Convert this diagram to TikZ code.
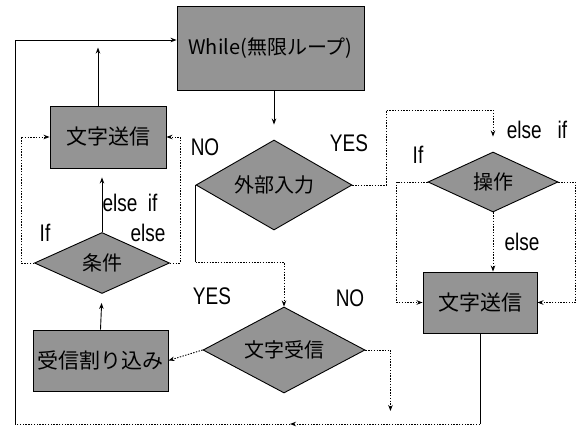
\documentclass[tikz,border=0pt]{standalone}
\usepackage{fontspec}
\usepackage{graphicx}
\setmainfont{Liberation Sans}
\newfontfamily\jp{Noto Sans CJK JP}
\usetikzlibrary{shapes.geometric,arrows.meta}
\newcommand\lbtxt[1]{\scalebox{0.95}[1.2]{#1}}
\begin{document}
\begin{tikzpicture}[x=1pt,y=-1pt,line width=0.9pt,
  box/.style={draw=black, fill=black!42, rectangle, inner sep=0pt, font=\jp\fontsize{21}{21}\selectfont},
  dia/.style={draw=black, fill=black!42, diamond, shape aspect=2, inner sep=0pt, font=\jp\fontsize{20}{20}\selectfont},
  lbl/.style={inner sep=0pt, font=\fontsize{20}{20}\selectfont},
  arr/.style={-{Stealth[length=6pt,width=4.5pt]}},
  dot/.style={dash pattern=on 1.4pt off 1.4pt}]
\useasboundingbox (0,0) rectangle (578,429);

% nodes
\node[box, minimum width=187pt, minimum height=84pt, font=\jp\fontsize{20}{20}\selectfont] (while) at (270.5,48) {While(無限ループ)};
\node[box, minimum width=116pt, minimum height=62pt] (send1) at (108,137) {文字送信};
\node[dia, minimum width=156pt, minimum height=90pt] (ext) at (274,185) {外部入力};
\node[dia, minimum width=162pt, minimum height=86pt] (recv) at (284,350) {文字受信};
\node[box, minimum width=135pt, minimum height=61pt] (intr) at (100.5,360.5) {受信割り込み};
\node[dia, minimum width=135pt, minimum height=61pt] (cond) at (102,263) {条件};
\node[dia, minimum width=130pt, minimum height=60pt] (op) at (493,182) {操作};
\node[box, minimum width=114pt, minimum height=61pt] (send2) at (480,302.5) {文字送信};
\coordinate (m) at (290,424);

% labels
\node[lbl] (l1) at (205,147) {\lbtxt{NO}};
\node[lbl] (l2) at (349,143) {\lbtxt{YES}};
\node[lbl] (l3) at (212,296) {\lbtxt{YES}};
\node[lbl] (l4) at (350,298) {\lbtxt{NO}};
\node[lbl] (l5) at (130,203) {\lbtxt{else\ \ if}};
\node[lbl] (l6) at (45,233) {\lbtxt{If}};
\node[lbl] (l7) at (148,233) {\lbtxt{else}};
\node[lbl] (l8) at (537,130) {\lbtxt{else\ \ \ if}};
\node[lbl] (l9) at (418,155) {\lbtxt{If}};
\node[lbl] (l10) at (522,242) {\lbtxt{else}};

% connectors
\draw[arr] (while.south -| ext.north) -- ([yshift=15pt]ext.north);
\draw (ext.west) -- ++(0,-77pt) coordinate (nob);
\draw[dot,arr] (nob) -| (recv.north);
\draw[dot,arr] (ext.east) -- ++(34pt,0) -- ++(0,75pt) -| ([yshift=15pt]op.north);
\draw[dot,arr] (op.west) -- ++(-31pt,0) |- (send2.west);
\draw[dot,arr] (op.east) -- ++(17pt,0) |- (send2.east);
\draw[dot,arr] (op.south) -- (op.south |- send2.north);
\draw (send2.south) -- (send2.south |- m) coordinate (bc);
\draw[dot,arr] (bc) -- (m);
\draw[dot] (m) -- ++(-275pt,0) coordinate (lc);
\draw[arr] (lc) |- ([yshift=8pt]while.west);
\draw[dot,arr] (recv.west) -- (intr.east);
\draw[dot,arr] (recv.east) -- ++(25pt,0) -- ++(0,-61pt);
\draw[arr,shorten >=9pt] (intr.north) -- (cond.south);
\draw[arr,shorten >=9pt] (cond.north) -- (cond.north |- send1.south);
\draw[dot,arr] (cond.west) -- ++(-13pt,0) |- (send1.west);
\draw[dot,arr] (cond.east) -- ++(10pt,0) |- (send1.east);
\draw[arr] ([xshift=-10pt]send1.north) -- ++(0,58pt);
\end{tikzpicture}
\end{document}
